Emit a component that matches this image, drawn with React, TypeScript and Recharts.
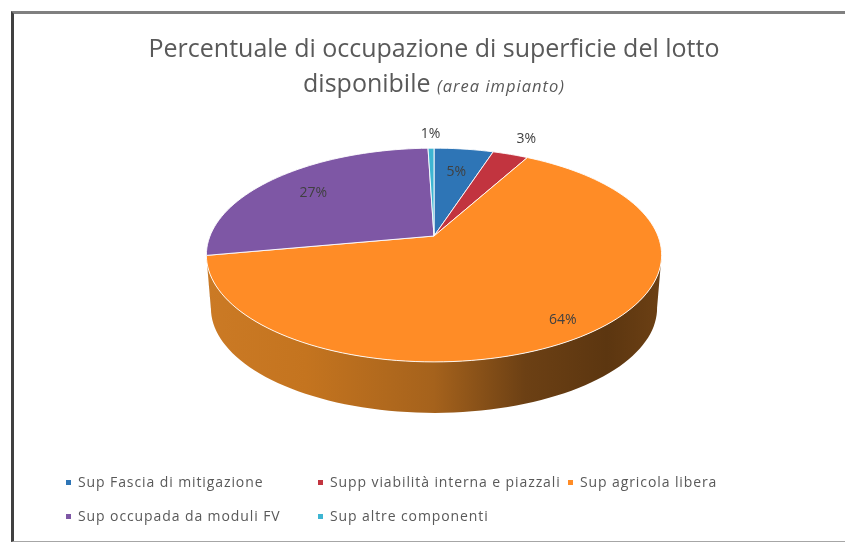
import { Cell, Legend, Pie, PieChart } from "recharts"

const categories = [
  "Sup Fascia di mitigazione",
  "Supp viabilità interna e piazzali",
  "Sup agricola libera",
  "Sup occupada da moduli FV",
  "Sup altre componenti",
]
// the labels show them rounded
const shares = [5, 3, 64.1, 27.4, 0.5]
const colors = ["#2e75b6", "#c2343f", "#ff8c26", "#7e57a5", "#3db5d2"]
// how far out each % label sits, as a fraction of the pie radius
const labelRadius = [0.72, 1.25, 0.86, 0.75, 1.22]

const rows = categories.map((name, i) => ({ name, value: shares[i] }))

const FONT = "'Open Sans', sans-serif"
const CX = 434
const CY = 236
const RADIUS = 224

// perspective of the tilted disc, fitted to the rim in the picture
const FLATTEN = 0.462
const PERSPECTIVE = 0.178
const DEPTH = 53.5
const SHRINK = 0.98
// clock angles where the side wall meets the outline of the disc
const WALL_FROM = 100
const WALL_TO = 260

function project(cx: number, cy: number, r: number, clock: number, frac = 1, drop = 0, scale = 1) {
  const rad = (clock * Math.PI) / 180
  const u = Math.sin(rad) * frac
  const v = Math.cos(rad) * frac
  const w = 1 + PERSPECTIVE * v
  return {
    x: cx + (r * scale * u) / w,
    y: cy + drop - (r * FLATTEN * scale * v) / w,
  }
}

function rim(cx: number, cy: number, r: number, from: number, to: number, drop = 0, scale = 1) {
  const pts = []
  const steps = Math.max(2, Math.ceil(Math.abs(to - from) / 2))
  for (let i = 0; i <= steps; i++) {
    const p = project(cx, cy, r, from + ((to - from) * i) / steps, 1, drop, scale)
    pts.push(`${p.x.toFixed(2)} ${p.y.toFixed(2)}`)
  }
  return pts
}

function TopSlice(props: any) {
  const { cx, cy, outerRadius, startAngle, endAngle, fill } = props
  const pts = rim(cx, cy, outerRadius, 90 - startAngle, 90 - endAngle)
  return <path d={`M${cx} ${cy}L${pts.join("L")}Z`} fill={fill} stroke="#fff" strokeWidth={0.9} />
}

function WallSlice(props: any) {
  const { cx, cy, outerRadius, startAngle, endAngle } = props
  const from = Math.max(90 - startAngle, WALL_FROM)
  const to = Math.min(90 - endAngle, WALL_TO)
  if (to <= from) return <g />
  const top = rim(cx, cy, outerRadius, from, to)
  const bottom = rim(cx, cy, outerRadius, to, from, DEPTH, SHRINK)
  return <path d={`M${top.join("L")}L${bottom.join("L")}Z`} fill="url(#wallShade)" />
}

function renderLabel(props: any) {
  const { cx, cy, outerRadius, midAngle, index, value } = props
  const p = project(cx, cy, outerRadius, 90 - midAngle, labelRadius[index])
  return (
    <text x={p.x} y={p.y} textAnchor="middle" dominantBaseline="central" fontFamily={FONT} fontSize={14} fill="#404040">
      {Math.round(value)}%
    </text>
  )
}

function LegendGrid() {
  return (
    <div
      style={{
        display: "grid",
        gridTemplateColumns: "252px 250px 200px",
        rowGap: 14,
        fontFamily: FONT,
        fontSize: 14,
        letterSpacing: 0.9,
        lineHeight: "20px",
        color: "#595959",
      }}
    >
      {categories.map((name, i) => (
        <div key={name} style={{ display: "flex", alignItems: "center", whiteSpace: "nowrap" }}>
          <span style={{ width: 5, height: 5, background: colors[i], marginRight: 7, flex: "none" }} />
          {name}
        </div>
      ))}
    </div>
  )
}

export default function App() {
  return (
    <div style={{ position: "absolute", left: 0, top: 0, width: 845, height: 543, background: "#fff", overflow: "hidden", filter: "blur(0.45px)" }}>
      <div
        style={{
          position: "absolute",
          left: 11,
          top: 11,
          width: 834,
          height: 531,
          boxSizing: "border-box",
          borderLeft: "3px solid #404040",
          borderTop: "3px solid #808080",
          borderBottom: "1px solid #a6a6a6",
        }}
      />
      <PieChart
        width={845}
        height={543}
        margin={{ top: 0, right: 0, bottom: 0, left: 0 }}
        style={{ position: "absolute", left: 0, top: 0 }}
      >
        <defs>
          <linearGradient id="wallShade" x1="0" y1="0" x2="1" y2="0">
            <stop offset="0%" stopColor="#cb7a25" />
            <stop offset="22%" stopColor="#c4741f" />
            <stop offset="50%" stopColor="#a5621c" />
            <stop offset="70%" stopColor="#6c4014" />
            <stop offset="88%" stopColor="#5c3610" />
            <stop offset="100%" stopColor="#6c4014" />
          </linearGradient>
        </defs>
        <Pie
          data={rows}
          dataKey="value"
          nameKey="name"
          cx={CX}
          cy={CY}
          outerRadius={RADIUS}
          startAngle={90}
          endAngle={-270}
          legendType="none"
          shape={WallSlice}
          label={false}
          isAnimationActive={false}
        />
        <Pie
          data={rows}
          dataKey="value"
          nameKey="name"
          cx={CX}
          cy={CY}
          outerRadius={RADIUS}
          startAngle={90}
          endAngle={-270}
          shape={TopSlice}
          label={renderLabel}
          labelLine={false}
          isAnimationActive={false}
        >
          {rows.map((row, i) => (
            <Cell key={row.name} fill={colors[i]} />
          ))}
        </Pie>
        <Legend content={<LegendGrid />} wrapperStyle={{ left: 66, top: 472, width: 720, bottom: "auto" }} />
      </PieChart>
      <div
        style={{
          position: "absolute",
          left: 0,
          width: 868,
          top: 29,
          textAlign: "center",
          fontFamily: FONT,
          color: "#595959",
          whiteSpace: "nowrap",
        }}
      >
        <div style={{ fontSize: 25, lineHeight: "36px" }}>Percentuale di occupazione di superficie del lotto</div>
        <div style={{ fontSize: 25, lineHeight: "34px" }}>
          disponibile <span style={{ fontSize: 16.5, fontStyle: "italic", letterSpacing: 1 }}>(area impianto)</span>
        </div>
      </div>
    </div>
  )
}
